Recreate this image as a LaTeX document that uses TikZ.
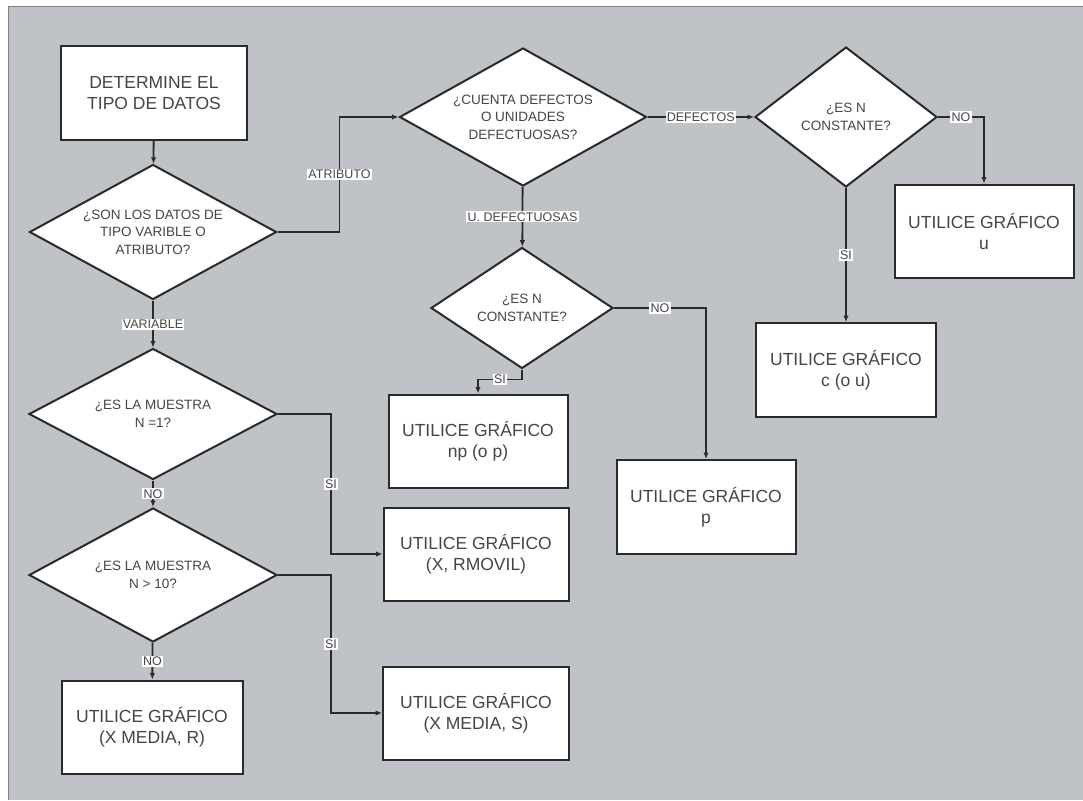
\documentclass[tikz,border=0pt]{standalone}
\usepackage{fontspec}
\setmainfont{Liberation Sans}
\usetikzlibrary{shapes.geometric,arrows.meta}
\definecolor{panel}{HTML}{BFC2C7}
\definecolor{ink}{HTML}{454545}
\definecolor{wire}{HTML}{2A2A2A}

\begin{document}
\begin{tikzpicture}[
    x=1pt, y=-1pt,
    box/.style={%
      draw=wire,
      line width=2pt,
      fill=white,
      rectangle,
      text=ink,
      align=center,
      inner sep=0pt,
      minimum width=181pt,
      minimum height=93pt,
      font=\fontsize{17.5}{21}\selectfont,
    },
    ask/.style={%
      draw=wire,
      line width=2pt,
      fill=white,
      diamond,
      aspect=1.8,
      text=ink,
      align=center,
      inner sep=0pt,
      minimum width=247pt,
      minimum height=135pt,
      font=\fontsize{13.5}{17.5}\selectfont,
    },
    lab/.style={fill=white, text=ink, inner sep=1.2pt, font=\fontsize{12.5}{13}\selectfont},
    arr/.style={draw=wire, line width=1.8pt, -{Latex[length=6.5pt,width=5.5pt]}},
  ]

    % panel
    \useasboundingbox (0,0) rectangle (1083,800);
    \fill [white] (0,0) rectangle (1083,800);
    \fill [panel] (8,7) rectangle (1083,800);
    \draw [gray, line width=1pt] (8,800) -- (8,7) -- (1083,7);

    % left column
    \node [box, minimum width=186pt] (S) at (154,93) {DETERMINE EL\\TIPO DE DATOS};
    \node [ask] (D1) at (153,232) {¿SON LOS DATOS DE\\TIPO VARIBLE O\\ATRIBUTO?};
    \node [ask, minimum width=248pt, minimum height=131pt] (D2) at (153,414) {¿ES LA MUESTRA\\N =1?};
    \node [ask, minimum width=248pt, minimum height=134pt] (D3) at (153,575) {¿ES LA MUESTRA\\N > 10?};
    \node [box] (XR) at (152,727) {UTILICE GRÁFICO\\(X MEDIA, R)};
    \node [box, minimum width=185pt] (RM) at (476,554) {UTILICE GRÁFICO\\(X, RMOVIL)};
    \node [box, minimum width=186pt] (XS) at (476,713) {UTILICE GRÁFICO\\(X MEDIA, S)};

    % attribute branch
    \node [ask, minimum height=138pt] (D4) at (523,117) {¿CUENTA DEFECTOS\\O UNIDADES\\DEFECTUOSAS?};
    \node [ask, minimum width=182pt, minimum height=121pt] (D5) at (522,308) {¿ES N\\CONSTANTE?};
    \node [box, minimum width=179pt] (NP) at (478,441) {UTILICE GRÁFICO\\np (o p)};
    \node [box, minimum width=179pt, minimum height=94pt] (P) at (706,507) {UTILICE GRÁFICO\\p};
    \node [ask, minimum width=182pt, minimum height=140pt] (D6) at (846,117) {¿ES N\\CONSTANTE?};
    \node [box, minimum width=179pt] (U) at (984,231) {UTILICE GRÁFICO\\u};
    \node [box, minimum width=180pt, minimum height=94pt] (C) at (846,370) {UTILICE GRÁFICO\\c (o u)};

    \draw [arr] (S) -- (D1);
    \draw [arr] (D1) -- (D2) node [lab,pos=0.5] {VARIABLE};
    \draw [arr] (D2) -- (D3) node [lab,pos=0.5] {NO};
    \draw [arr] (D3) -- (XR) node [lab,pos=0.5] {NO};
    \draw [arr] (D2.east) -- ++(53,0) |- node [lab,pos=0.25] {SI} (RM.west);
    \draw [arr] (D3.east) -- ++(53,0) |- node [lab,pos=0.25] {SI} (XS.west);
    \draw [arr] (D1.east) -- ++(62,0) |- node [lab,pos=0.25] {ATRIBUTO} (D4.west);
    \draw [arr] (D4) -- (D5) node [lab,pos=0.5] {U. DEFECTUOSAS};
    \draw [arr] (D5.south) -- ++(0,10) -| node [lab,pos=0.25] {SI} (NP.north);
    \draw [arr] (D5.east) -| node [lab,pos=0.25] {NO} (P.north);
    \draw [arr] (D4) -- (D6) node [lab,pos=0.5] {DEFECTOS};
    \draw [arr] (D6.east) -| node [lab,pos=0.25] {NO} (U.north);
    \draw [arr] (D6) -- (C) node [lab,pos=0.5] {SI};
\end{tikzpicture}
\end{document}
